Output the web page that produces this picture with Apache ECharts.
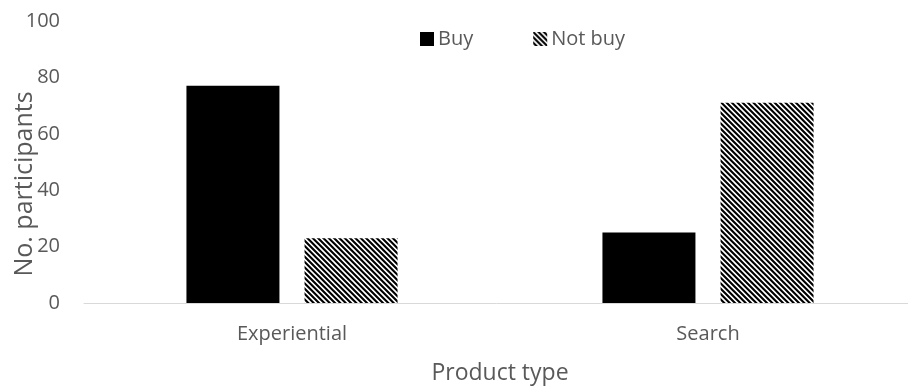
<!DOCTYPE html>
<html>
<head>
<meta charset="utf-8">
<script src="https://cdn.jsdelivr.net/npm/echarts@6/dist/echarts.min.js"></script>
<style>
  html, body { margin: 0; padding: 0; background: #fff; }
  #chart { width: 908px; height: 387px; }
</style>
</head>
<body>
<div id="chart"></div>
<script>
const categories = ['Experiential', 'Search'];
const buyValues = [77, 25];
const notBuyValues = [23, 71];
const yTicks = [0, 20, 40, 60, 80, 100];

// Diagonal black/white hatching tile for the "Not buy" bars (3 stripes per 16px tile)
function makeHatch() {
  const size = 16, period = size / 3;
  const c = document.createElement('canvas');
  c.width = size; c.height = size;
  const ctx = c.getContext('2d');
  ctx.fillStyle = '#fff';
  ctx.fillRect(0, 0, size, size);
  ctx.strokeStyle = '#000';
  ctx.lineWidth = 2.1;
  ctx.beginPath();
  for (let k = -6; k <= 6; k++) {
    const x0 = k * period;
    ctx.moveTo(x0 - 2, -2);
    ctx.lineTo(x0 + size + 2, size + 2);
  }
  ctx.stroke();
  return c;
}
const hatch = { image: makeHatch(), repeat: 'repeat' };

const font = '"Open Sans", "Noto Sans", sans-serif';
const textColor = '#595959';

const chart = echarts.init(document.getElementById('chart'), null, { renderer: 'canvas' });
chart.setOption({
  animation: false,
  textStyle: { fontFamily: font },
  grid: { left: 84, top: 21, width: 832, height: 282, containLabel: false, outerBoundsMode: 'none' },
  legend: {
    left: 415, top: 24,
    itemWidth: 14, itemHeight: 14, itemGap: 60,
    textStyle: { fontFamily: font, fontSize: 20, color: textColor, padding: [0, 0, 0, -1] },
    data: [
      { name: 'Buy', icon: 'rect', itemStyle: { color: '#000' } },
      { name: 'Not buy', icon: 'rect', itemStyle: { color: hatch } }
    ]
  },
  xAxis: {
    type: 'category',
    data: categories,
    name: 'Product type',
    nameLocation: 'middle',
    nameGap: 59,
    nameMoveOverlap: false,
    nameTextStyle: { fontFamily: font, fontSize: 23, color: textColor },
    axisLine: { lineStyle: { color: '#d9d9d9', width: 1 } },
    axisTick: { show: false },
    axisLabel: { fontFamily: font, fontSize: 20, color: textColor, margin: 21 }
  },
  yAxis: {
    type: 'value',
    min: yTicks[0], max: yTicks[yTicks.length - 1], interval: 20,
    name: 'No. participants',
    nameLocation: 'middle',
    nameGap: 47,
    nameRotate: 90,
    nameMoveOverlap: false,
    nameTextStyle: { fontFamily: font, fontSize: 25, color: textColor, padding: [0, 44, 0, 0] },
    axisLine: { show: false },
    axisTick: { show: false },
    splitLine: { show: false },
    axisLabel: { fontFamily: font, fontSize: 20, color: textColor, margin: 24 }
  },
  series: [
    { name: 'Buy', type: 'bar', data: buyValues, barWidth: 93, barGap: '27%',
      itemStyle: { color: '#000' } },
    { name: 'Not buy', type: 'bar', data: notBuyValues, barWidth: 93,
      itemStyle: { color: hatch } }
  ]
});
</script>
</body>
</html>
